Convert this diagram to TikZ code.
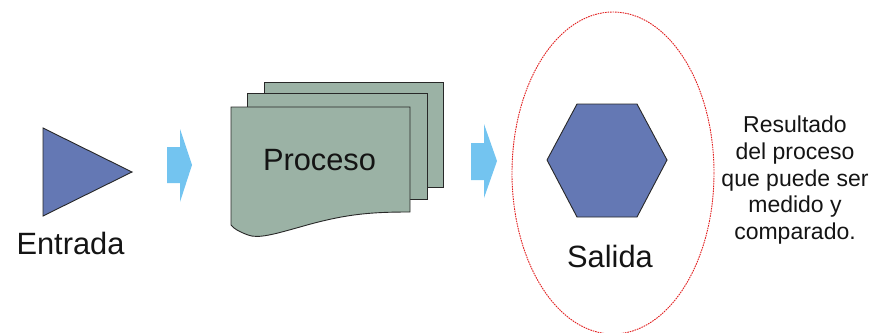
\documentclass[tikz,border=0pt]{standalone}
\usepackage{fontspec}
\setmainfont{Liberation Sans}
\definecolor{shapeblue}{RGB}{100,120,180}
\definecolor{sheetgreen}{RGB}{155,178,165}
\definecolor{flowblue}{RGB}{115,196,240}
\definecolor{ringred}{RGB}{225,30,30}
\definecolor{edgegray}{RGB}{40,40,40}
\begin{document}
\begin{tikzpicture}[x=1pt,y=-1pt,
  solid shape/.style={draw=edgegray,line width=0.9pt,line join=miter},
  sheet/.style={solid shape,fill=sheetgreen},
  flow/.style={fill=flowblue,draw=none},
  biglabel/.style={font=\fontsize{30.8}{32}\selectfont,text=black!92,inner sep=0pt},
  note/.style={font=\fontsize{23}{26.7}\selectfont,text=black!92,align=center,inner sep=0pt}]
\useasboundingbox (0,0) rectangle (874,332);

% input: triangle
\draw[solid shape,fill=shapeblue] (43,128) -- (132,172) -- (43,216) -- cycle;
\node[biglabel,anchor=base] (entrada) at (70.5,254) {Entrada};

% flow arrow 1
\fill[flow] (167,147) -- (180,147) -- (180,129) -- (192,165) -- (180,202) -- (180,183) -- (167,183) -- cycle;

% process: stacked documents
\draw[sheet] (264,82) rectangle (443,187);
\draw[sheet] (247,93) rectangle (427,199);
\draw[sheet] (231,107) -- (410,107) -- (410,212)
  .. controls (370,212) and (345,214) .. (300,227)
  .. controls (275,234) and (258,239) .. (248,235)
  .. controls (240,232) and (234,229) .. (231,225) -- cycle;
\node[biglabel,anchor=base] (proceso) at (319.5,170) {Proceso};

% flow arrow 2
\fill[flow] (471,143) -- (484,143) -- (484,124) -- (497,161) -- (484,198) -- (484,180) -- (471,180) -- cycle;

% output: hexagon inside dotted ring
\draw[ringred,line width=0.9pt,dash pattern=on 1.6pt off 0.9pt] (613,173) ellipse [x radius=101, y radius=161];
\draw[solid shape,fill=shapeblue] (577,104) -- (637,104) -- (667,160) -- (637,217) -- (577,217) -- (547,160) -- cycle;
\node[biglabel,anchor=base] (salida) at (610,267) {Salida};

% description
\node[note,anchor=north] (nota) at (795,116) {Resultado\\del proceso\\que puede ser\\medido y\\comparado.};
\end{tikzpicture}
\end{document}
